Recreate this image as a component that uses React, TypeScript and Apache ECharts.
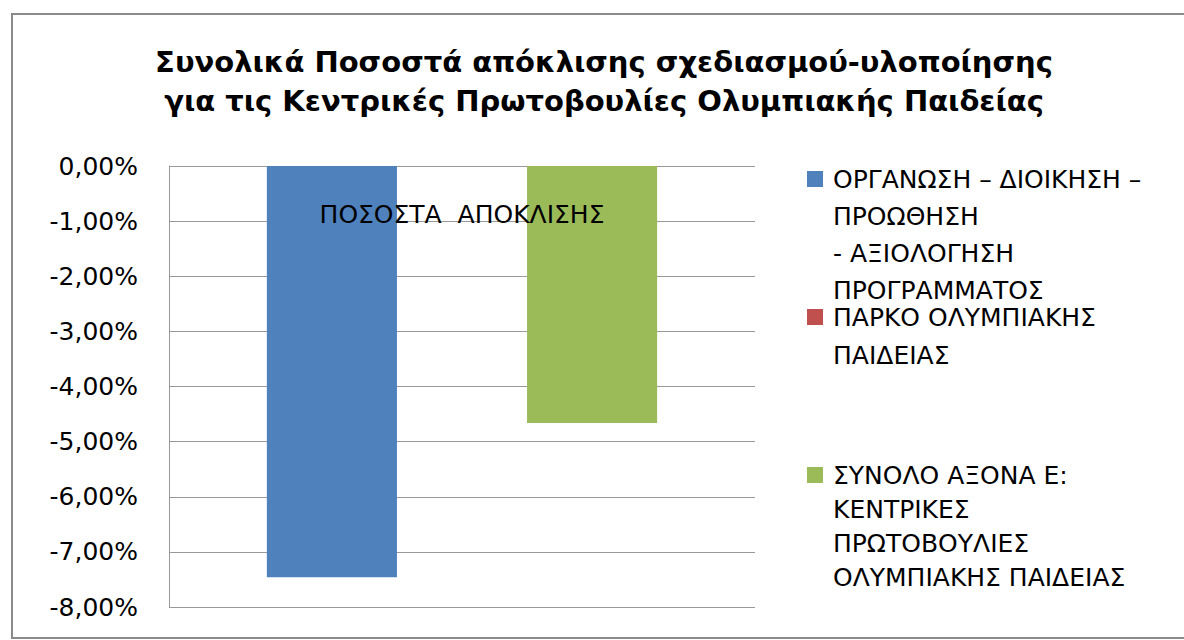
import React, { useEffect, useRef } from "react";
import * as echarts from "echarts";

const categories = ["ΠΟΣΟΣΤΑ  ΑΠΟΚΛΙΣΗΣ"];
const seriesNames = [
  "ΟΡΓΑΝΩΣΗ – ΔΙΟΙΚΗΣΗ – ΠΡΟΩΘΗΣΗ - ΑΞΙΟΛΟΓΗΣΗ ΠΡΟΓΡΑΜΜΑΤΟΣ",
  "ΠΑΡΚΟ ΟΛΥΜΠΙΑΚΗΣ ΠΑΙΔΕΙΑΣ",
  "ΣΥΝΟΛΟ ΑΞΟΝΑ Ε: ΚΕΝΤΡΙΚΕΣ ΠΡΩΤΟΒΟΥΛΙΕΣ ΟΛΥΜΠΙΑΚΗΣ ΠΑΙΔΕΙΑΣ",
];
const legendLines = [
  ["ΟΡΓΑΝΩΣΗ – ΔΙΟΙΚΗΣΗ –", "ΠΡΟΩΘΗΣΗ", "- ΑΞΙΟΛΟΓΗΣΗ", "ΠΡΟΓΡΑΜΜΑΤΟΣ"],
  ["ΠΑΡΚΟ ΟΛΥΜΠΙΑΚΗΣ", "ΠΑΙΔΕΙΑΣ"],
  ["ΣΥΝΟΛΟ ΑΞΟΝΑ Ε:", "ΚΕΝΤΡΙΚΕΣ", "ΠΡΩΤΟΒΟΥΛΙΕΣ", "ΟΛΥΜΠΙΑΚΗΣ ΠΑΙΔΕΙΑΣ"],
];
const organwshValues = [-7.46];
const parkoValues = [0];
const synoloValues = [-4.66];
const seriesValues = [organwshValues, parkoValues, synoloValues];
const seriesColors = ["#4F81BD", "#C0504D", "#9BBB59"];
const titleLines = [
  "Συνολικά Ποσοστά απόκλισης σχεδιασμού-υλοποίησης",
  "για τις Κεντρικές Πρωτοβουλίες Ολυμπιακής Παιδείας",
];
const yMin = -8;
const yMax = 0;
const yInterval = 1;

const FONT = "DejaVu Sans";

export default function App() {
  const ref = useRef<HTMLDivElement>(null);
  useEffect(() => {
    if (!ref.current) return;
    const chart = echarts.init(ref.current, null, { renderer: "svg" });
    const firstLineCenters = [179, 317, 475];
    const legendLineHeights = [37, 38, 34];
    const legends = seriesNames.map((name, i) => {
      const n = legendLines[i].length;
      const L = legendLineHeights[i];
      const H = n * L;
      const a = L / 2 - 8;
      const iconPath = `path://M0,0 M21,${H} M0,${a} L16,${a} L16,${a + 16} L0,${a + 16} Z`;
      return {
        data: [{ name, icon: iconPath }],
        left: 807,
        top: firstLineCenters[i] - L / 2,
        padding: 0,
        itemWidth: 21,
        itemHeight: H,
        selectedMode: false,
        formatter: () => legendLines[i].join("\n"),
        textStyle: {
          fontFamily: FONT,
          fontSize: 25,
          color: "#000",
          lineHeight: L,
        },
      };
    });
    const option = {
      animation: false,
      backgroundColor: "#fff",
      title: {
        text: titleLines.join("\n"),
        left: 604,
        textAlign: "center",
        top: 42,
        padding: 0,
        textStyle: {
          fontFamily: FONT,
          fontWeight: "bold",
          fontSize: 29,
          lineHeight: 39,
          color: "#000",
        },
      },
      legend: legends,
      grid: {
        left: 169,
        right: 429,
        top: 166,
        bottom: 33,
        containLabel: false,
        outerBoundsMode: "none",
      },
      xAxis: {
        type: "category",
        data: categories,
        position: "top",
        z: 10,
        axisLine: { show: false },
        axisTick: { show: false },
        axisLabel: {
          inside: true,
          fontFamily: FONT,
          fontSize: 25,
          color: "#000",
          margin: 36,
        },
      },
      yAxis: {
        type: "value",
        min: yMin,
        max: yMax,
        interval: yInterval,
        axisLine: { show: true, lineStyle: { color: "#999", width: 1 } },
        axisTick: { show: false },
        splitLine: { show: true, lineStyle: { color: "#999", width: 1 } },
        axisLabel: {
          fontFamily: FONT,
          fontSize: 25,
          color: "#000",
          margin: 31,
          formatter: (v: number) => v.toFixed(2).replace(".", ",") + "%",
        },
      },
      series: seriesNames.map((name, i) => ({
        name,
        type: "bar",
        data: seriesValues[i],
        barGap: "0%",
        barCategoryGap: "33.4%",
        itemStyle: { color: seriesColors[i] },
      })),
      graphic: [
        {
          type: "rect",
          shape: { x: 12, y: 14, width: 1200, height: 624 },
          style: { fill: "none", stroke: "#8a8a8a", lineWidth: 2 },
          silent: true,
        },
      ],
    };
    chart.setOption(option as any);
    return () => chart.dispose();
  }, []);
  return (
    <div
      ref={ref}
      style={{ position: "fixed", left: 0, top: 0, width: 1184, height: 640 }}
    />
  );
}
